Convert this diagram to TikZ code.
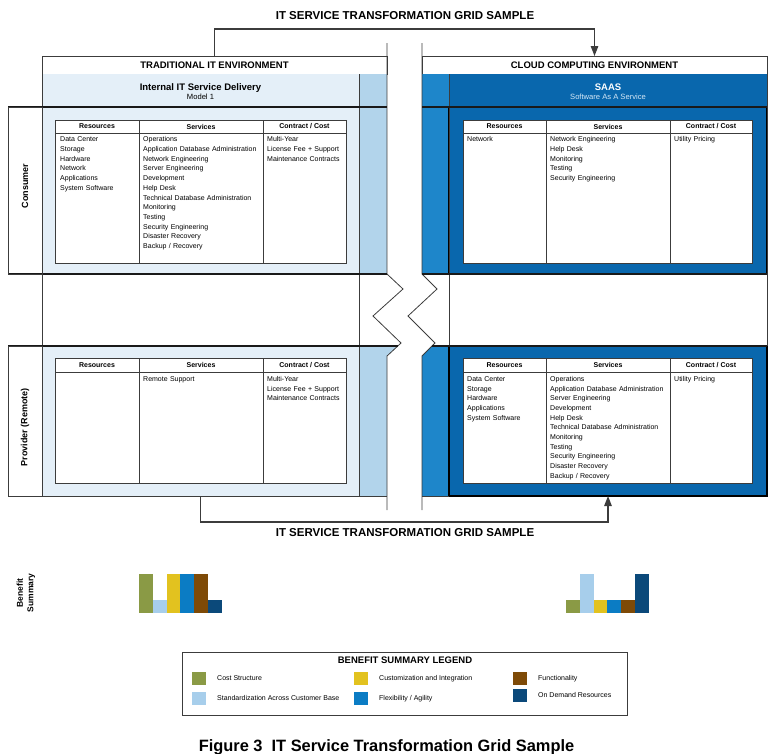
\documentclass[tikz,border=0pt]{standalone}
\usepackage{fontspec}
\setmainfont{Liberation Sans}
\usetikzlibrary{arrows.meta}

\definecolor{ink}{HTML}{3C3C3C}
\definecolor{lpanel}{HTML}{E4EFF8}
\definecolor{lstrip}{HTML}{B2D4EB}
\definecolor{mblue}{HTML}{1E86CA}
\definecolor{dblue}{HTML}{0967AD}
\definecolor{saassub}{HTML}{D6E8F6}
\definecolor{bOlive}{HTML}{8A9A45}
\definecolor{bLight}{HTML}{A7CEEB}
\definecolor{bYellow}{HTML}{E2C21F}
\definecolor{bBlue}{HTML}{0B7CC4}
\definecolor{bBrown}{HTML}{7E4A07}
\definecolor{bNavy}{HTML}{0B497A}

\newcommand\fsz[2]{\fontsize{#1}{#2}\selectfont}
% rectangle node from its top-left corner (#3,#4) to its bottom-right corner (#5,#6)
\newcommand\boxat[7]{\node[rect,#1,minimum width={(#5)-(#3)},minimum height={(#6)-(#4)}] (#2) at (#3,#4) {#7};}
% three-column table: prefix, column edges x0..x3, top, header bottom, bottom
\newcommand\gridtable[8]{%
  \boxat{cell}{#1-h1}{#2}{#6}{#3}{#7}{Resources}
  \boxat{cell}{#1-h2}{#3}{#6}{#4}{#7}{Services}
  \boxat{cell}{#1-h3}{#4}{#6}{#5}{#7}{Contract / Cost}
  \boxat{cell}{#1-b1}{#2}{#7}{#3}{#8}{}
  \boxat{cell}{#1-b2}{#3}{#7}{#4}{#8}{}
  \boxat{cell}{#1-b3}{#4}{#7}{#5}{#8}{}}

\begin{document}
\begin{tikzpicture}[x=1pt,y=-1pt,
  rect/.style={anchor=north west,inner sep=0pt,outer sep=0pt},
  edge/.style={draw=ink,line width=0.8pt},
  heavy/.style={draw=black!90,line width=1.6pt},
  cell/.style={fill=white,draw=ink,line width=0.8pt,font=\bfseries\fsz{7}{8}},
  bodytxt/.style={anchor=base west,inner sep=0pt,text width=150pt,align=left,font=\fsz{7}{9.7}},
  title/.style={anchor=base,inner sep=0pt,font=\bfseries\fsz{11.5}{13}},
  envtxt/.style={anchor=base,inner sep=0pt,font=\bfseries\fsz{9.5}{11}},
  subtxt/.style={anchor=base,inner sep=0pt,font=\fsz{7.6}{9}},
  sidetxt/.style={rotate=90,inner sep=0pt,font=\bfseries\fsz{9}{10}},
  conn/.style={draw=ink,line width=1.3pt,-{Triangle[length=10pt,width=7.5pt]}},
  swatch/.style={rect,minimum width=14pt,minimum height=13pt},
  legtxt/.style={anchor=base west,inner sep=0pt,font=\fsz{7}{8}}]
\useasboundingbox (0,0) rectangle (779,753);

% ---------- titles and environment headers ----------
\node[title] (toptitle) at (405,19.5) {IT SERVICE TRANSFORMATION GRID SAMPLE};
\boxat{edge,fill=white,font=\bfseries\fsz{9.5}{11}}{trad}{42}{56}{387}{74}{TRADITIONAL IT ENVIRONMENT}
\boxat{edge,fill=white,font=\bfseries\fsz{9.5}{11}}{cloud}{422}{56}{767}{74}{CLOUD COMPUTING ENVIRONMENT}

% ---------- traditional side: fills ----------
\boxat{fill=lpanel}{lband}{42}{74}{359}{107}{}
\boxat{fill=lstrip}{lstripA}{359}{74}{387}{274}{}
\boxat{fill=lpanel}{lcons}{42}{107}{359}{274}{}
\boxat{fill=lpanel}{lprov}{42}{346}{359}{496}{}
\fill[lstrip] (359,346) -- (398,346) -- (387,356) -- (387,496) -- (359,496) -- cycle;
\node[envtxt] (lbandT) at (200.5,90) {Internal IT Service Delivery};
\node[subtxt] (lbandS) at (200.5,99) {Model 1};

% ---------- cloud side: fills ----------
\boxat{fill=mblue}{rstripA}{422}{74}{449}{274}{}
\fill[mblue] (432,346) -- (449,346) -- (449,496) -- (422,496) -- (422,356) -- cycle;
\boxat{fill=dblue}{rband}{449}{74}{767}{107}{}
\node[envtxt,text=white] (rbandT) at (608,90.5) {SAAS};
\node[subtxt,text=saassub] (rbandS) at (608,99) {Software As A Service};
\boxat{fill=dblue,draw=black,line width=1.6pt}{rcons}{449}{107}{767}{274}{}
\boxat{fill=dblue,draw=black,line width=1.6pt}{rprov}{449}{346}{767}{496}{}

% ---------- frame lines ----------
\draw[edge] (42,74) -- (42,496);
\draw[edge] (359,74) -- (359,496);
\draw[edge] (449,74) -- (449,346);
\draw[edge] (767,74) -- (767,346);
\draw[edge] (387,43) -- (387,274) -- (403,289) -- (373,316) -- (401,343) -- (387,356) -- (387,510);
\draw[edge] (422,43) -- (422,274) -- (437,289) -- (408,316) -- (435,343) -- (422,356) -- (422,510);
\draw[edge] (42,107) -- (359,107);
\draw[heavy] (8,107) -- (387,107);
\draw[heavy] (422,107) -- (767,107);
\draw[heavy] (8,274) -- (387,274);
\draw[heavy] (422,274) -- (767,274);
\draw[heavy] (8,346) -- (398,346);
\draw[heavy] (432,346) -- (767,346);
\draw[edge] (8,496) -- (387,496);
\draw[edge] (422,496) -- (449,496);

% ---------- row labels ----------
\boxat{edge}{conslbl}{8}{107}{42}{274}{}
\boxat{edge}{provlbl}{8}{346}{42}{496}{}
\node[sidetxt] (constxt) at (25,186) {Consumer};
\node[sidetxt] (provtxt) at (25,427) {Provider (Remote)};

% ---------- tables ----------
\gridtable{tc}{55}{139}{263}{346}{120}{133}{263}
\gridtable{sc}{463}{546}{670}{752}{120}{133}{263}
\gridtable{tp}{55}{139}{263}{346}{358}{372}{483}
\gridtable{sp}{463}{546}{670}{752}{358}{372}{483}

\node[bodytxt] (tcR) at (60,141.8) {Data Center\\Storage\\Hardware\\Network\\Applications\\System Software};
\node[bodytxt] (tcS) at (143,141.8) {Operations\\Application Database Administration\\Network Engineering\\Server Engineering\\Development\\Help Desk\\Technical Database Administration\\Monitoring\\Testing\\Security Engineering\\Disaster Recovery\\Backup / Recovery};
\node[bodytxt] (tcC) at (267,141.8) {Multi-Year\\License Fee + Support\\Maintenance Contracts};

\node[bodytxt] (scR) at (467,141.8) {Network};
\node[bodytxt] (scS) at (550,141.8) {Network Engineering\\Help Desk\\Monitoring\\Testing\\Security Engineering};
\node[bodytxt] (scC) at (674,141.8) {Utility Pricing};

\node[bodytxt] (tpS) at (143,381.3) {Remote Support};
\node[bodytxt] (tpC) at (267,381.3) {Multi-Year\\License Fee + Support\\Maintenance Contracts};

\node[bodytxt] (spR) at (467,381.3) {Data Center\\Storage\\Hardware\\Applications\\System Software};
\node[bodytxt] (spS) at (550,381.3) {Operations\\Application Database Administration\\Server Engineering\\Development\\Help Desk\\Technical Database Administration\\Monitoring\\Testing\\Security Engineering\\Disaster Recovery\\Backup / Recovery};
\node[bodytxt] (spC) at (674,381.3) {Utility Pricing};

% ---------- transformation connectors ----------
\draw[conn] (trad.north) -- ++(0,-27) -| (cloud.north);
\draw[conn] (lprov.south) -- ++(0,26) -| (rprov.south);
\node[title] (bottitle) at (405,536) {IT SERVICE TRANSFORMATION GRID SAMPLE};

% ---------- benefit summary ----------
\node[rotate=90,inner sep=0pt,align=center,font=\bfseries\fsz{8.5}{10.5}] (benefit) at (26,593) {Benefit\\Summary};
\foreach \c/\h [count=\i from 0] in {bOlive/574,bLight/600,bYellow/574,bBlue/574,bBrown/574,bNavy/600}
  \fill[\c] ({139+\i*13.8},\h) rectangle ({139+(\i+1)*13.8},613);
\foreach \c/\h [count=\i from 0] in {bOlive/600,bLight/574,bYellow/600,bBlue/600,bBrown/600,bNavy/574}
  \fill[\c] ({566+\i*13.8},\h) rectangle ({566+(\i+1)*13.8},613);

% ---------- legend ----------
\boxat{edge}{legend}{182}{652}{627}{715}{}
\node[envtxt] (legtitle) at (405,663.4) {BENEFIT SUMMARY LEGEND};
\node[swatch,fill=bOlive] (swCost) at (192,672) {};
\node[swatch,fill=bLight] (swStd) at (192,692) {};
\node[swatch,fill=bYellow] (swCust) at (354,672) {};
\node[swatch,fill=bBlue] (swFlex) at (354,692) {};
\node[swatch,fill=bBrown] (swFunc) at (513,672) {};
\node[swatch,fill=bNavy] (swDem) at (513,689) {};
\node[legtxt] (lgCost) at (217,680.8) {Cost Structure};
\node[legtxt] (lgStd) at (217,700.5) {Standardization Across Customer Base};
\node[legtxt] (lgCust) at (379,680.8) {Customization and Integration};
\node[legtxt] (lgFlex) at (379,700.5) {Flexibility / Agility};
\node[legtxt] (lgFunc) at (538,680.8) {Functionality};
\node[legtxt] (lgDem) at (538,697.8) {On Demand Resources};

% ---------- caption ----------
\node[anchor=base,inner sep=0pt,font=\bfseries\fsz{16.4}{18}] (caption) at (386.5,751) {Figure 3~~IT Service Transformation Grid Sample};
\end{tikzpicture}
\end{document}
